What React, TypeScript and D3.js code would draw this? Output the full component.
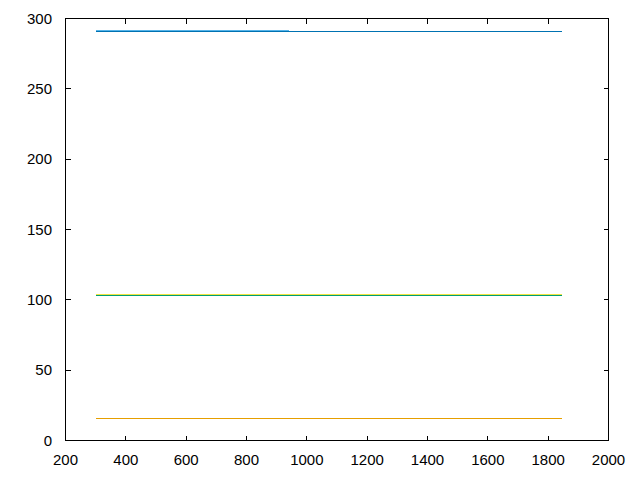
import React from "react";
import * as d3 from "d3";

const xTicks = [200, 400, 600, 800, 1000, 1200, 1400, 1600, 1800, 2000];
const yTicks = [0, 50, 100, 150, 200, 250, 300];

const seriesNames = ["blue", "sky", "green", "yellow", "orange"];
const seriesColors = ["#0072b2", "#56b4e9", "#009e73", "#f0e442", "#e69f00"];
const seriesX = [
  [300, 1845],
  [300, 940],
  [300, 1845],
  [300, 1845],
  [300, 1845],
];
const seriesY = [
  [291.0, 291.0],
  [291.4, 291.4],
  [103.3, 103.3],
  [104.0, 104.0],
  [15.9, 15.9],
];

const W = 640;
const H = 480;
const M = { left: 65.5, right: 31.5, top: 18.5, bottom: 39.5 };

export default function App() {
  const x = d3.scaleLinear().domain([200, 2000]).range([M.left, W - M.right]);
  const y = d3.scaleLinear().domain([0, 300]).range([H - M.bottom, M.top]);
  const line = d3
    .line<[number, number]>()
    .x((d) => x(d[0]))
    .y((d) => y(d[1]));
  const tl = 5;
  const font = "'Liberation Sans', Arial, sans-serif";
  return (
    <svg
      width={W}
      height={H}
      style={{ position: "absolute", left: 0, top: 0, background: "#fff" }}
    >
      <rect x={0} y={0} width={W} height={H} fill="#fff" />
      {seriesNames.map((n, i) => (
        <path
          key={n}
          d={line(seriesX[i].map((v, j) => [v, seriesY[i][j]] as [number, number])) || ""}
          fill="none"
          stroke={seriesColors[i]}
          strokeWidth={1}
          shapeRendering="crispEdges"
        />
      ))}
      <g stroke="#000" strokeWidth={1} shapeRendering="crispEdges">
        {xTicks.map((t) => (
          <g key={"x" + t}>
            <line x1={x(t)} x2={x(t)} y1={y(0)} y2={y(0) - tl} />
            <line x1={x(t)} x2={x(t)} y1={y(300)} y2={y(300) + tl} />
          </g>
        ))}
        {yTicks.map((t) => (
          <g key={"y" + t}>
            <line x1={x(200)} x2={x(200) + tl} y1={y(t)} y2={y(t)} />
            <line x1={x(2000)} x2={x(2000) - tl} y1={y(t)} y2={y(t)} />
          </g>
        ))}
        <rect
          x={x(200)}
          y={y(300)}
          width={x(2000) - x(200)}
          height={y(0) - y(300)}
          fill="none"
        />
      </g>
      <g fontFamily={font} fontSize={15} fill="#000">
        {xTicks.map((t) => (
          <text key={"xl" + t} x={x(t)} y={y(0) + 24.5} textAnchor="middle">
            {t}
          </text>
        ))}
        {yTicks.map((t) => (
          <text key={"yl" + t} x={x(200) - 13.5} y={y(t) + 5.3} textAnchor="end">
            {t}
          </text>
        ))}
      </g>
    </svg>
  );
}
